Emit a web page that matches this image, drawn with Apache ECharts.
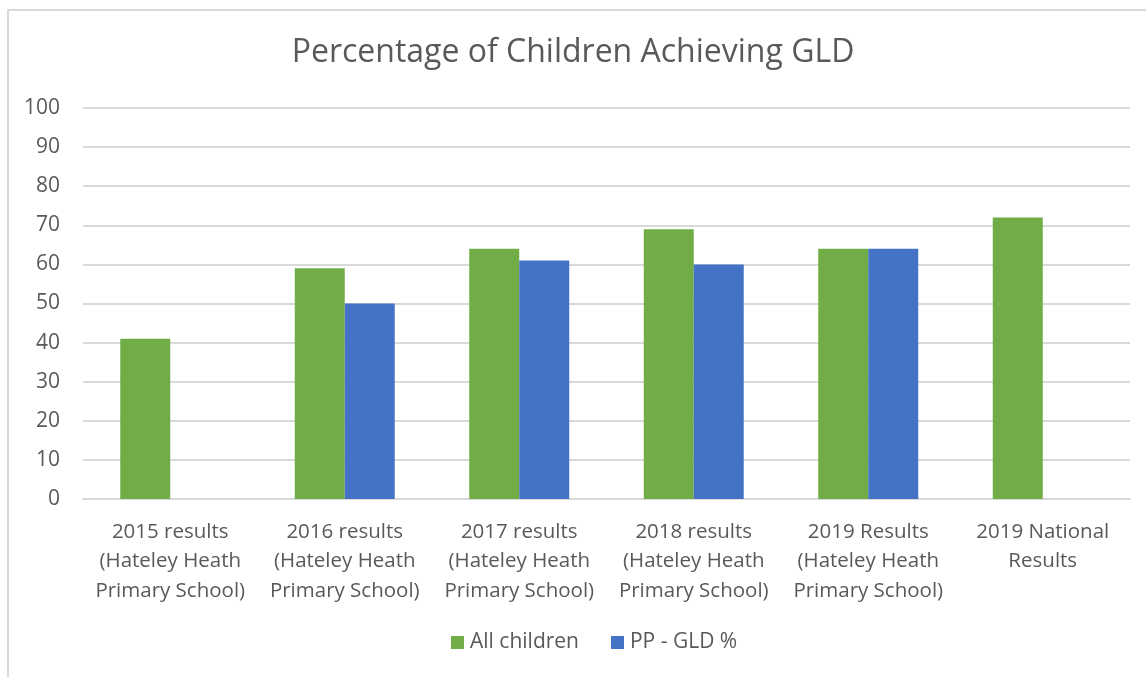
<!DOCTYPE html>
<html>
<head>
<meta charset="utf-8">
<script src="https://cdn.jsdelivr.net/npm/echarts@6/dist/echarts.min.js"></script>
<style>
  html, body { margin: 0; padding: 0; background: #fff; overflow: hidden; }
  #frame { position: absolute; left: 7px; top: 9px; width: 1200px; height: 700px;
           border-left: 2px solid #d9d9d9; border-top: 2px solid #d9d9d9; }
  #chart { position: absolute; left: 0; top: 0; width: 1146px; height: 677px; }
</style>
</head>
<body>
<div id="frame"></div>
<div id="chart"></div>
<script>
const categories = [
  '2015 results\n(Hateley Heath\nPrimary School)',
  '2016 results\n(Hateley Heath\nPrimary School)',
  '2017 results\n(Hateley Heath\nPrimary School)',
  '2018 results\n(Hateley Heath\nPrimary School)',
  '2019 Results\n(Hateley Heath\nPrimary School)',
  '2019 National\nResults'
];
const allChildren = [41, 59, 64, 69, 64, 72];
const ppGld = [null, 50, 61, 60, 64, null];

const font = '"Open Sans", "Liberation Sans", sans-serif';
const textColor = '#595959';

let myChart = echarts.init(document.getElementById('chart'));

myChart.setOption({
  animation: false,
  title: {
    text: 'Percentage of Children Achieving GLD',
    left: 'center',
    top: 32,
    textStyle: { fontFamily: font, fontSize: 32, fontWeight: 'normal', color: textColor }
  },
  legend: {
    top: 627,
    left: 446,
    itemWidth: 13,
    itemHeight: 13,
    itemGap: 32,
    icon: 'rect',
    textStyle: { fontFamily: font, fontSize: 21, color: textColor, padding: [0, 0, 0, 1] },
    data: ['All children', 'PP - GLD %']
  },
  grid: { left: 83, right: 16, top: 108, bottom: 178, containLabel: false },
  xAxis: {
    type: 'category',
    data: categories,
    axisLine: { lineStyle: { color: '#d9d9d9', width: 2 } },
    axisTick: { show: false },
    axisLabel: {
      interval: 0,
      margin: 18,
      lineHeight: 29.5,
      fontFamily: font, fontSize: 20.5, color: textColor
    }
  },
  yAxis: {
    type: 'value',
    min: 0,
    max: 100,
    interval: 10,
    axisLine: { show: false },
    axisTick: { show: false },
    axisLabel: { margin: 23, fontFamily: font, fontSize: 21, color: textColor },
    splitLine: { lineStyle: { color: '#d9d9d9', width: 2 } }
  },
  series: [
    {
      name: 'All children',
      type: 'bar',
      data: allChildren,
      barGap: '0%',
      barCategoryGap: '42.7%',
      itemStyle: { color: '#70ad47' }
    },
    {
      name: 'PP - GLD %',
      type: 'bar',
      data: ppGld,
      itemStyle: { color: '#4472c4' }
    }
  ]
});
</script>
</body>
</html>
